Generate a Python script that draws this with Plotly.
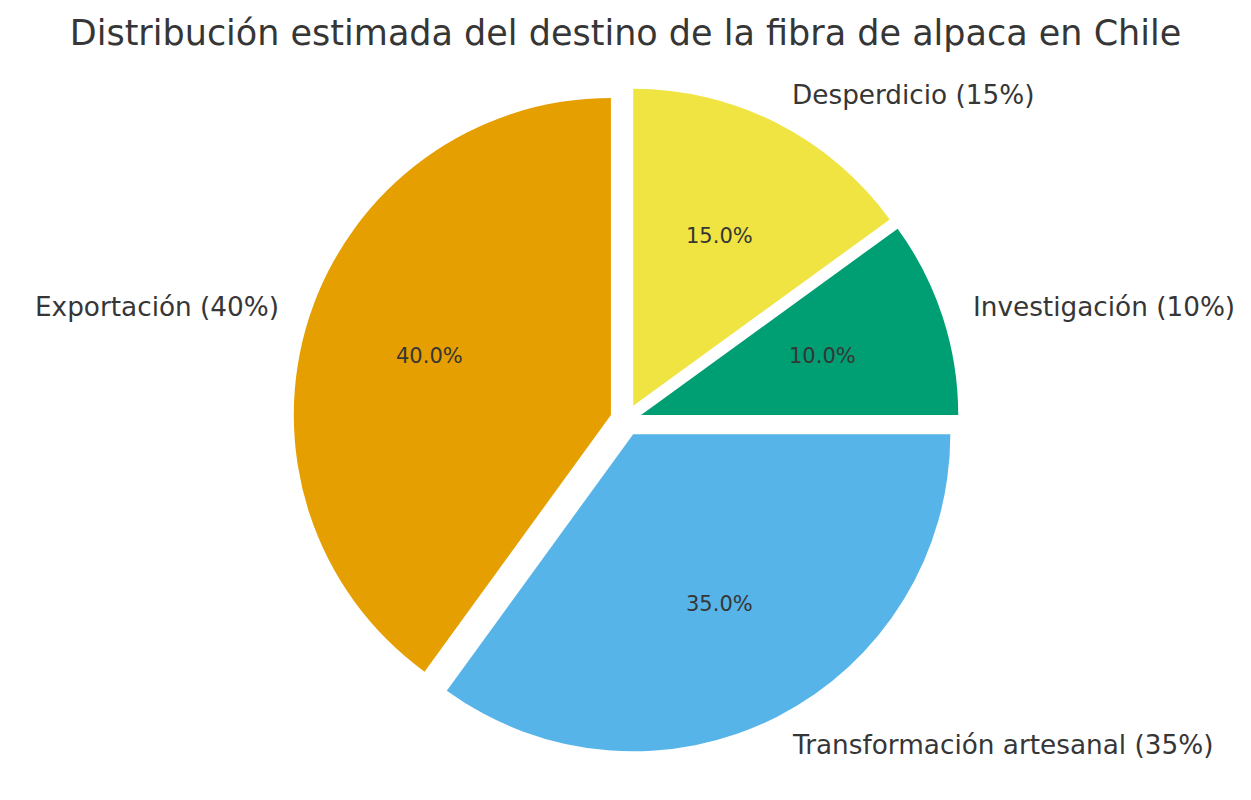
import math
import plotly.graph_objects as go

# datos
categorias = ["Exportación", "Transformación artesanal", "Investigación", "Desperdicio"]
porcentajes = [40, 35, 10, 15]
colores = ["#E69F00", "#56B4E9", "#009E73", "#F0E442"]
titulo = "Distribución estimada del destino de la fibra de alpaca en Chile"

W, H = 1251, 800
off = 8                    # margen por defecto del <body> en la página
cx, cy = 626 - off, 420 - off   # centro del pastel (px)
half = 333                 # radio incluido el "pull"
pull = 0.05
r = half / (1 + pull)
total = sum(porcentajes)

fig = go.Figure(go.Pie(
    labels=categorias,
    values=porcentajes,
    sort=False,
    direction="counterclockwise",
    rotation=-360 * porcentajes[0] / total,
    pull=[pull] * len(porcentajes),
    marker=dict(colors=colores, line=dict(width=0)),
    textinfo="none",
    hoverinfo="label+percent",
    showlegend=False,
    domain=dict(x=[(cx - half) / W, (cx + half) / W],
                y=[(H - cy - half) / H, (H - cy + half) / H]),
))

# etiquetas exteriores y porcentajes (como labeldistance=1.1, pctdistance=0.6)
acum = 0
anots = []
for cat, v in zip(categorias, porcentajes):
    th = math.radians(90 + 360 * (acum + v / 2) / total)
    acum += v
    ox = pull * r * math.cos(th)
    oy = pull * r * math.sin(th)
    lx = cx + ox + 1.1 * r * math.cos(th)
    ly = cy - oy - 1.1 * r * math.sin(th)
    anots.append(dict(
        x=lx / W, y=1 - ly / H, xref="paper", yref="paper",
        text=f"{cat} ({v}%)", showarrow=False, borderpad=0, borderwidth=0,
        xanchor="left" if math.cos(th) > 0 else "right", yanchor="middle",
        font=dict(size=26.3, color="#363636"),
    ))
    px_ = cx + ox + 0.6 * r * math.cos(th)
    py_ = cy - oy - 0.6 * r * math.sin(th)
    anots.append(dict(
        x=px_ / W, y=1 - py_ / H, xref="paper", yref="paper",
        text=f"{100 * v / total:.1f}%", showarrow=False, borderpad=0,
        xanchor="center", yanchor="middle",
        font=dict(size=21, color="#363636"),
    ))

fig.update_layout(
    width=W, height=H,
    margin=dict(l=0, r=0, t=0, b=0),
    paper_bgcolor="white",
    font=dict(family="DejaVu Sans", color="#363636"),
    title=dict(text=titulo, x=(625.5 - off) / W, xanchor="center",
               y=1 - (33 - off) / H, yanchor="middle", yref="container",
               font=dict(size=35, color="#363636")),
    annotations=anots,
)

fig.write_html("out.html")
